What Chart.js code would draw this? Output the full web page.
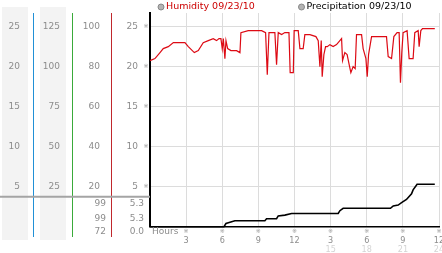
<!DOCTYPE html>
<html>
<head>
<meta charset="utf-8">
<script src="https://cdn.jsdelivr.net/npm/chart.js@4.4.0/dist/chart.umd.min.js"></script>
<style>
  html, body { margin: 0; padding: 0; background: #fff; }
</style>
</head>
<body>
<canvas id="weather" width="442" height="253"></canvas>
<script>
// hours since midnight 09/23/10
const humidityHours = [0, 0.41, 0.83, 1.10, 1.52, 1.94, 2.90, 3.18, 3.68, 4.01,
  4.42, 4.84, 5.25, 5.53, 5.73, 5.89, 6.00, 6.09, 6.22, 6.31,
  6.45, 6.72, 7.19, 7.47, 7.55, 8.16, 9.27, 9.60, 9.74, 9.88,
  10.23, 10.37, 10.51, 10.65, 10.93, 11.20, 11.54, 11.64, 11.90, 11.97,
  12.31, 12.45, 12.72, 12.86, 13.28, 13.78, 13.97, 14.11, 14.22, 14.30,
  14.44, 14.58, 14.72, 14.94, 15.21, 15.49, 15.91, 15.99, 16.18, 16.37,
  16.54, 16.68, 16.87, 17.04, 17.15, 17.57, 17.70, 17.93, 18.04, 18.15,
  18.40, 19.64, 19.78, 20.06, 20.25, 20.52, 20.69, 20.80, 20.91, 21.02,
  21.35, 21.52, 21.85, 21.99, 22.27, 22.35, 22.49, 22.63, 23.65];
const humidityValues = [83, 84, 87, 89, 90, 92, 92, 90, 87, 88,
  92, 93, 94, 93, 94, 94, 89, 94, 84, 93,
  89, 88, 88, 87, 97, 98, 98, 97, 76, 97,
  97, 97, 81, 97, 96, 97, 97, 77, 77, 98,
  98, 89, 89, 96, 96, 95, 93, 80, 93, 75,
  86, 90, 90, 91, 90, 91, 94, 83, 87, 86,
  81, 77, 80, 79, 96, 96, 89, 84, 75, 86,
  95, 95, 85, 84, 95, 97, 97, 72, 87, 97,
  98, 84, 84, 97, 98, 90, 98, 99, 99];

const precipHours = [0, 6.14, 6.31, 6.64, 7.05, 9.54, 9.68, 10.51, 10.65, 11.20,
  11.76, 15.63, 15.77, 16.04, 19.97, 20.20, 20.61, 20.89, 21.30, 21.72,
  21.85, 22.18, 23.65];
const precipValues = [0, 0, 0.4, 0.55, 0.75, 0.75, 1.0, 1.0, 1.35, 1.45,
  1.65, 1.65, 2.0, 2.3, 2.3, 2.6, 2.7, 3.0, 3.4, 4.1,
  4.6, 5.3, 5.3];

const hourTicks = [3, 6, 9, 12, 15, 18, 21, 24];
const hourLabels = ['3', '6', '9', '12', '3', '6', '9', '12'];
const clockTicks = [15, 18, 21, 24];
const precipTicks = [5, 10, 15, 20, 25];
const humidityTicks = [20, 40, 60, 80, 100];
const col2Ticks = [25, 50, 75, 100, 125];
const col1Ticks = [5, 10, 15, 20, 25];
const humiditySummary = ['99', '99', '72'];
const precipSummary = ['5.3', '5.3', '0.0'];

const TOP = 26.7; // value at the top edge of the plot on the 0-25 scale
const labelFont = { family: 'DejaVu Sans', size: 9 };
const gray = '#8c8c8c';

function setTicks(list) {
    return (axis) => { axis.ticks = list.map((v) => ({ value: v })); };
}
function sideAxis(max, list, color, weight, width, pad) {
    return {
        position: 'left', min: 0, max: max, weight: weight,
        afterBuildTicks: setTicks(list),
        ticks: { color: gray, font: labelFont, padding: pad },
        grid: { drawOnChartArea: false, drawTicks: false },
        border: { color: color, width: 1 },
        afterFit: (a) => { a.width = width; a.paddingTop = 0; a.paddingBottom = 0; }
    };
}

const extras = {
    id: 'extras',
    beforeDraw(chart) {
        const c = chart.ctx;
        const a = chart.scales.yA, b = chart.scales.yB;
        c.save();
        c.fillStyle = '#f3f3f3';
        c.fillRect(a.left + 2, 7, a.width - 7, 233);
        c.fillRect(b.left + 7, 7, b.width - 13, 233);
        c.restore();
    },
    afterDraw(chart) {
        const c = chart.ctx;
        const s = chart.scales;
        const area = chart.chartArea;
        c.save();
        // column lines run down past the plot
        [['yA', '#2190d6'], ['yB', '#3aaa3a'], ['yH', '#c0282d']].forEach(([id, col]) => {
            const x = Math.round(s[id].right) + 0.5;
            c.strokeStyle = col;
            c.lineWidth = 1;
            c.beginPath();
            c.moveTo(x, s[id].bottom);
            c.lineTo(x, 237);
            c.stroke();
        });
        // separator
        const sepY = s.y.getPixelForValue(3.75);
        c.strokeStyle = '#a4a4a4';
        c.lineWidth = 2;
        c.beginPath();
        c.moveTo(0, sepY);
        c.lineTo(area.left, sepY);
        c.stroke();
        // summary values
        c.fillStyle = gray;
        c.font = '9px "DejaVu Sans"';
        c.textAlign = 'right';
        c.textBaseline = 'middle';
        [204, 218.5, 232].forEach((yy, i) => {
            c.fillText(humiditySummary[i], s.yH.right - 5, yy);
            c.fillText(precipSummary[i], s.y.right - 6, yy);
        });
        // tick marks
        c.fillStyle = '#999';
        c.font = '6px "DejaVu Sans"';
        c.textAlign = 'center';
        precipTicks.forEach((v) => c.fillText('※', area.left - 4, s.y.getPixelForValue(v)));
        hourTicks.forEach((v) => c.fillText('※', s.x.getPixelForValue(v), 231.5));
        c.fillStyle = gray;
        c.font = '9px "DejaVu Sans"';
        c.textAlign = 'left';
        c.fillText('Hours', area.left + 2, 232);
        // legend
        let lx = [161, 301.5];
        chart.data.datasets.forEach((ds, i) => {
            c.beginPath();
            c.arc(lx[i], 7, 3, 0, Math.PI * 2);
            c.fillStyle = '#b4b4b4';
            c.fill();
            c.strokeStyle = '#888';
            c.lineWidth = 1;
            c.stroke();
            c.fillStyle = ds.legendColor;
            c.font = '9.5px "DejaVu Sans"';
            c.textBaseline = 'middle';
            c.fillText(ds.label, lx[i] + 5, 7);
        });
        c.restore();
    }
};

new Chart(document.getElementById('weather'), {
    type: 'line',
    data: {
        datasets: [{
            label: 'Humidity 09/23/10',
            data: humidityHours.map((h, i) => ({ x: h, y: humidityValues[i] })),
            borderColor: '#dd0a14',
            legendColor: '#cc0000',
            borderWidth: 1.2,
            pointRadius: 0,
            tension: 0,
            clip: false,
            xAxisID: 'x',
            yAxisID: 'yH'
        }, {
            label: 'Precipitation 09/23/10',
            data: precipHours.map((h, i) => ({ x: h, y: precipValues[i] })),
            borderColor: '#000',
            legendColor: '#000',
            borderWidth: 1.6,
            pointRadius: 0,
            tension: 0,
            clip: false,
            xAxisID: 'x',
            yAxisID: 'y'
        }]
    },
    options: {
        responsive: false,
        animation: false,
        devicePixelRatio: 1,
        layout: { padding: { top: 13, right: 3, left: 0, bottom: 0 } },
        plugins: { legend: { display: false }, tooltip: { enabled: false } },
        scales: {
            x: {
                type: 'linear', position: 'bottom', min: 0, max: 24, weight: 0,
                afterBuildTicks: setTicks(hourTicks),
                ticks: {
                    color: gray, font: { family: 'DejaVu Sans Condensed', size: 9 },
                    padding: 9, maxRotation: 0, autoSkip: false,
                    callback: (v, i) => hourLabels[i]
                },
                grid: { color: '#dcdcdc', drawTicks: false },
                border: { color: '#000', width: 1.5 },
                afterFit: (a) => { a.height = 18; a.paddingLeft = 0; a.paddingRight = 0; }
            },
            x2: {
                type: 'linear', position: 'bottom', min: 0, max: 24, weight: 1,
                afterBuildTicks: setTicks(clockTicks),
                ticks: {
                    color: '#d4d4d4', font: { family: 'DejaVu Sans Condensed', size: 9 },
                    padding: 0, maxRotation: 0, autoSkip: false
                },
                grid: { display: false, drawTicks: false },
                border: { display: false },
                afterFit: (a) => { a.height = 8.3; a.paddingLeft = 0; a.paddingRight = 0; }
            },
            y: {
                position: 'left', min: 0, max: TOP, weight: 0,
                afterBuildTicks: setTicks(precipTicks),
                ticks: { color: gray, font: labelFont, padding: 12 },
                grid: { color: '#dcdcdc', drawTicks: false },
                border: { color: '#000', width: 2 },
                afterFit: (a) => { a.width = 39; a.paddingTop = 0; a.paddingBottom = 0; }
            },
            yH: sideAxis(TOP * 4, humidityTicks, '#c0282d', 1, 39, 11),
            yB: sideAxis(TOP * 5, col2Ticks, '#3aaa3a', 2, 39, 12),
            yA: sideAxis(TOP, col1Ticks, '#2190d6', 3, 33, 13)
        }
    },
    plugins: [extras]
});
</script>
</body>
</html>
